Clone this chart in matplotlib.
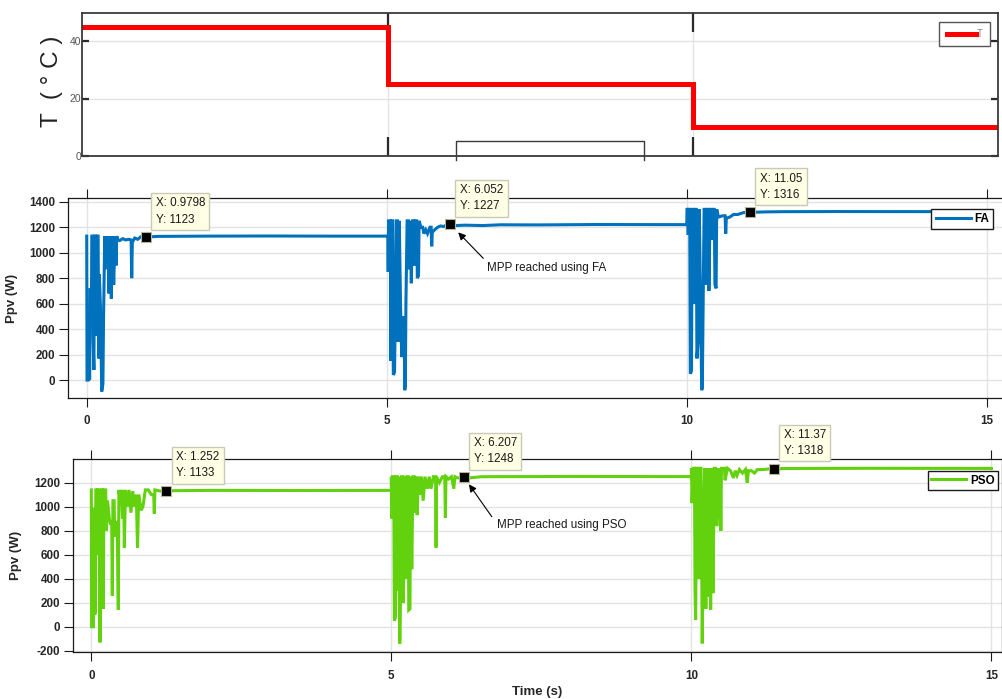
''' PV power under a temperature step profile: FA vs PSO MPPT '''

import numpy as np
import matplotlib
matplotlib.use('Agg')
import matplotlib.pyplot as plt
from matplotlib.lines import Line2D

plt.rcParams['font.family'] = ['Liberation Sans', 'DejaVu Sans']
plt.rcParams['axes.unicode_minus'] = False

''' temperature profile (s, degC) '''
temp_t = [0, 5, 10, 15]
temp_c = [45, 25, 10, 10]

''' FA power trace, read off the scope picture as (t [s], P [W]) '''
fa_pts_1 = [(0.0, 1130), (0.005, 0), (0.03, 0), (0.05, 10), (0.055, 710), (0.08, 710),
            (0.085, 1130), (0.1, 1130), (0.105, 330), (0.12, 80), (0.13, 1130), (0.15, 1130),
            (0.16, 350), (0.17, 1130), (0.19, 1130), (0.2, 170), (0.21, 830), (0.23, 560),
            (0.25, -90), (0.27, -30), (0.28, 470), (0.3, 1130), (0.31, 870), (0.33, 1130),
            (0.34, 900), (0.36, 1130), (0.37, 680), (0.39, 1130), (0.41, 640), (0.43, 1130),
            (0.45, 750), (0.47, 1130), (0.49, 900), (0.5, 1130), (0.52, 1100), (0.55, 1095),
            (0.6, 1110), (0.65, 1100), (0.7, 1105), (0.74, 1100), (0.75, 800), (0.76, 1080),
            (0.8, 1115), (0.85, 1105), (0.9, 1125), (0.9798, 1123), (1.2, 1128), (2.0, 1130),
            (3.0, 1131), (4.0, 1130), (5.0, 1130)]
fa_pts_2 = [(5.02, 1130), (5.025, 850), (5.03, 1250), (5.06, 1250), (5.07, 150), (5.08, 1250),
            (5.1, 1250), (5.11, 40), (5.13, 60), (5.14, 400), (5.16, 1250), (5.18, 1250),
            (5.19, 300), (5.21, 1250), (5.23, 600), (5.25, 180), (5.27, 400), (5.29, 500),
            (5.3, -80), (5.31, -50), (5.32, 600), (5.34, 1250), (5.36, 1250), (5.37, 870),
            (5.39, 1250), (5.41, 760), (5.43, 1250), (5.45, 1250), (5.46, 900), (5.48, 1250),
            (5.5, 1250), (5.51, 800), (5.53, 820), (5.54, 1250), (5.57, 1200), (5.6, 1200),
            (5.62, 1150), (5.65, 1180), (5.68, 1150), (5.72, 1200), (5.74, 1200), (5.75, 1050),
            (5.76, 1160), (5.8, 1180), (5.85, 1200), (5.9, 1210), (5.95, 1205), (6.0, 1220),
            (6.052, 1227), (6.1, 1212), (6.3, 1216), (6.6, 1213), (6.9, 1219), (7.5, 1218),
            (8.5, 1221), (10.0, 1220)]
fa_pts_3 = [(10.005, 1340), (10.02, 1340), (10.025, 1140), (10.03, 1340), (10.05, 1340),
            (10.06, 50), (10.08, 70), (10.09, 1340), (10.11, 1340), (10.12, 600), (10.14, 1340),
            (10.16, 1340), (10.17, 170), (10.19, 300), (10.21, 1340), (10.23, 600), (10.25, -80),
            (10.26, -60), (10.27, 400), (10.29, 1340), (10.31, 1340), (10.32, 750), (10.34, 1340),
            (10.36, 1340), (10.37, 700), (10.39, 1340), (10.41, 1340), (10.42, 1100),
            (10.44, 1340), (10.46, 1340), (10.47, 750), (10.49, 720), (10.5, 1340), (10.53, 1280),
            (10.6, 1290), (10.64, 1290), (10.65, 1150), (10.66, 1270), (10.72, 1280),
            (10.78, 1300), (10.85, 1300), (10.95, 1315), (11.05, 1316), (11.1, 1305),
            (11.15, 1318), (11.3, 1320), (11.6, 1322), (12.5, 1323), (15.0, 1322)]

''' PSO power trace '''
pso_pts_1 = [(0.0, 1140), (0.005, 0), (0.035, 0), (0.04, 980), (0.05, 980), (0.055, 100),
             (0.07, 120), (0.075, 1140), (0.09, 1140), (0.095, 600), (0.11, 1140), (0.13, 1140),
             (0.145, -130), (0.155, 700), (0.17, 1140), (0.19, 1140), (0.2, 150), (0.21, 1140),
             (0.24, 1140), (0.25, 800), (0.27, 1050), (0.3, 900), (0.32, 850), (0.34, 880),
             (0.35, 260), (0.36, 1050), (0.38, 1050), (0.39, 750), (0.41, 870), (0.43, 870),
             (0.45, 140), (0.46, 1140), (0.48, 1050), (0.5, 1140), (0.52, 900), (0.54, 1140),
             (0.55, 660), (0.57, 1140), (0.6, 1000), (0.63, 1140), (0.66, 950), (0.69, 1130),
             (0.72, 1000), (0.75, 1100), (0.77, 660), (0.79, 1100), (0.83, 970), (0.86, 1000),
             (0.9, 1140), (0.95, 1140), (1.0, 1100), (1.04, 1100), (1.05, 940), (1.06, 1140),
             (1.15, 1130), (1.252, 1133), (2.0, 1136), (3.5, 1135), (5.0, 1136)]
pso_pts_2 = [(5.0, 1250), (5.01, 900), (5.02, 1250), (5.04, 1250), (5.05, 50), (5.07, 80),
             (5.08, 1250), (5.1, 1250), (5.11, 300), (5.12, 1250), (5.14, -140), (5.16, 500),
             (5.17, 1250), (5.19, 1250), (5.2, 200), (5.22, 1250), (5.24, 400), (5.26, 1250),
             (5.28, 1250), (5.29, 140), (5.31, 150), (5.32, 1250), (5.34, 480), (5.36, 1250),
             (5.38, 1250), (5.39, 950), (5.41, 1250), (5.43, 930), (5.45, 1250), (5.48, 1100),
             (5.5, 1250), (5.53, 1050), (5.56, 1250), (5.6, 1150), (5.63, 1250), (5.66, 1150),
             (5.7, 1250), (5.74, 1250), (5.745, 660), (5.75, 1250), (5.8, 1200), (5.85, 1250),
             (5.89, 1250), (5.9, 910), (5.91, 1250), (5.95, 1230), (6.0, 1250), (6.04, 1150),
             (6.06, 1250), (6.1, 1240), (6.207, 1248), (6.3, 1240), (6.5, 1250), (8.0, 1252),
             (10.0, 1251)]
pso_pts_3 = [(10.0, 1320), (10.01, 1030), (10.03, 1320), (10.05, 1320), (10.06, 300),
             (10.07, 56), (10.09, 1320), (10.11, 1320), (10.12, 400), (10.14, 1320),
             (10.16, 1320), (10.18, -139), (10.2, 800), (10.22, 1320), (10.24, 150), (10.26, 1320),
             (10.28, 250), (10.3, 1320), (10.32, 140), (10.34, 1320), (10.36, 280), (10.38, 1320),
             (10.4, 1320), (10.41, 850), (10.43, 850), (10.44, 1320), (10.46, 900), (10.48, 1320),
             (10.49, 800), (10.5, 1320), (10.55, 1320), (10.56, 1220), (10.6, 1320),
             (10.65, 1300), (10.7, 1240), (10.73, 1300), (10.76, 1260), (10.8, 1310),
             (10.85, 1280), (10.9, 1310), (10.93, 1200), (10.95, 1300), (11.0, 1300),
             (11.05, 1280), (11.1, 1310), (11.2, 1310), (11.37, 1318), (11.4, 1300),
             (11.5, 1318), (13.0, 1320), (15.0, 1319)]

''' data tips and labels '''
fa_tip_x = [0.9798, 6.052, 11.05]
fa_tip_y = [1123, 1227, 1316]
pso_tip_x = [1.252, 6.207, 11.37]
pso_tip_y = [1133, 1248, 1318]
fa_note = 'MPP reached using FA'
pso_note = 'MPP reached using PSO'

FA_BLUE = '#0072BD'
PSO_GREEN = '#62D20E'
DARK = '#262626'
GRID = '#E3E3E3'


def stack(*segments):
    pts = np.array([p for seg in segments for p in seg], dtype=float)
    return pts[:, 0], pts[:, 1]


def px_to_pt(v):
    return v * 72.0 / 100.0


def addDataTips(ax, xs, ys):
    ''' MATLAB style data cursors: black square + pale yellow box '''
    ax.plot(xs, ys, 's', ms=6.5, mfc='black', mec='#B8B49A', mew=0.8, zorder=6, ls='none')
    for x, y in zip(xs, ys):
        ax.annotate('X: %g\nY: %d' % (x, y), xy=(x, y), xytext=(px_to_pt(10), px_to_pt(11.5)),
                    textcoords='offset points', ha='left', va='bottom', fontsize=8.4,
                    color='#1a1a1a', linespacing=1.45, zorder=7,
                    bbox=dict(boxstyle='square,pad=0.38', fc='#FFFFE5', ec='#C9C9B8', lw=1.0))


def addArrow(ax, x, y, text, tail, shrink, textpos):
    ax.annotate('', xy=(x, y), xytext=(px_to_pt(tail[0]), px_to_pt(tail[1])),
                textcoords='offset points',
                arrowprops=dict(arrowstyle='-|>', color='black', lw=0.8, mutation_scale=11,
                                shrinkA=0, shrinkB=px_to_pt(shrink)), zorder=8)
    ax.annotate(text, xy=(x, y), xytext=(px_to_pt(textpos[0]), px_to_pt(textpos[1])),
                textcoords='offset points', ha='left', va='center', fontsize=8.4,
                color='#1a1a1a', zorder=8)


def stylePowerAxes(ax):
    for s in ax.spines.values():
        s.set_color('#1a1a1a')
        s.set_linewidth(0.9)
    ax.grid(True, color=GRID, lw=1.0)
    ax.set_axisbelow(True)
    ax.set_xticks([0, 5, 10, 15])
    ax.tick_params(axis='both', direction='out', length=6.5, width=0.8, color='#1a1a1a',
                   labelsize=8.4, labelcolor=DARK)
    ax.tick_params(axis='x', top=True, pad=6)
    ax.tick_params(axis='y', pad=3)
    for lab in ax.get_xticklabels() + ax.get_yticklabels():
        lab.set_fontweight('bold')


W, H = 1003, 699
fig = plt.figure(figsize=(W / 100, H / 100), dpi=100)


def axRect(left, top, right, bottom):
    return [left / W, 1 - bottom / H, (right - left) / W, (bottom - top) / H]


''' temperature panel '''
axT = fig.add_axes(axRect(82.3, 12.7, 998.3, 155.7))
axT.plot(temp_t, temp_c, color='#FF0000', lw=3.6, drawstyle='steps-post', label='T',
         solid_joinstyle='miter')
axT.set_xlim(0, 15)
axT.set_ylim(0, 50)
axT.set_xticks([5, 10])
axT.set_xticklabels([])
axT.set_yticks([0, 20, 40])
axT.grid(True, color=GRID, lw=1.0)
axT.set_axisbelow(True)
axT.tick_params(axis='x', direction='in', length=14, width=1.6, color='#2a2a2a', top=True)
axT.tick_params(axis='y', direction='in', length=5, width=1.6, color='#2a2a2a', right=True,
                labelsize=7.5, labelcolor='#555555', pad=1)
for s in axT.spines.values():
    s.set_color('#3a3a3a')
    s.set_linewidth(1.3)
axT.set_ylabel('T  ( ° C )', fontsize=17.5, color='#222222', labelpad=2)
axT.yaxis.set_label_coords(-19.0 / 916, 0.52)
legT = axT.legend(loc='upper right', bbox_to_anchor=(0.991, 0.937), fontsize=7,
                  handlelength=3.0, handletextpad=0.1, borderpad=0.75, borderaxespad=0,
                  fancybox=False, framealpha=1, edgecolor='#555555')
legT.get_texts()[0].set_color('#888888')

''' leftover frame under the temperature panel '''
fig.add_artist(Line2D([456 / W, 456 / W, 644 / W, 644 / W],
                      [1 - 160 / H, 1 - 141 / H, 1 - 141 / H, 1 - 160 / H],
                      transform=fig.transFigure, color='#3a3a3a', lw=1.0))

''' FA panel '''
fa_t, fa_p = stack(fa_pts_1, fa_pts_2, fa_pts_3)
axF = fig.add_axes(axRect(68.3, 198.3, 1004.7, 398.0))
axF.plot(fa_t, fa_p, color=FA_BLUE, lw=2.2, label='FA', solid_joinstyle='miter')
axF.set_xlim(-0.307, 15.3)
axF.set_ylim(-141, 1427)
axF.set_yticks(np.arange(0, 1401, 200))
stylePowerAxes(axF)
axF.set_ylabel('Ppv (W)', fontsize=9.5, fontweight='bold', color=DARK)
axF.yaxis.set_label_coords(-50.3 / 936.4, 0.5)
addDataTips(axF, fa_tip_x, fa_tip_y)
addArrow(axF, fa_tip_x[1], fa_tip_y[1], fa_note, (33.5, -34.6), 12, (37.2, -44.3))
axF.legend(loc='upper right', bbox_to_anchor=(0.9875, 0.946),
           prop=dict(weight='bold', size=8.4), handlelength=3.0, handletextpad=0.3,
           borderpad=0.35, borderaxespad=0, fancybox=False, framealpha=1,
           edgecolor='#1a1a1a')

''' PSO panel '''
pso_t, pso_p = stack(pso_pts_1, pso_pts_2, pso_pts_3)
axP = fig.add_axes(axRect(73.3, 459.3, 1001.7, 652.3))
axP.plot(pso_t, pso_p, color=PSO_GREEN, lw=2.2, label='PSO', solid_joinstyle='miter')
axP.set_xlim(-0.3, 15.17)
axP.set_ylim(-213, 1395)
axP.set_yticks(np.arange(-200, 1201, 200))
stylePowerAxes(axP)
axP.set_ylabel('Ppv (W)', fontsize=9.5, fontweight='bold', color=DARK)
axP.yaxis.set_label_coords(-50.8 / 928.4, 0.5)
axP.set_xlabel('Time (s)', fontsize=9.5, fontweight='bold', color=DARK, labelpad=3)
addDataTips(axP, pso_tip_x, pso_tip_y)
addArrow(axP, pso_tip_x[1], pso_tip_y[1], pso_note, (28.0, -39.8), 9, (33.0, -48.1))
axP.legend(loc='upper right', bbox_to_anchor=(0.996, 0.939),
           prop=dict(weight='bold', size=8.4), handlelength=3.0, handletextpad=0.3,
           borderpad=0.3, borderaxespad=0, fancybox=False, framealpha=1,
           edgecolor='#1a1a1a')

fig.savefig('out.png', dpi=100)
